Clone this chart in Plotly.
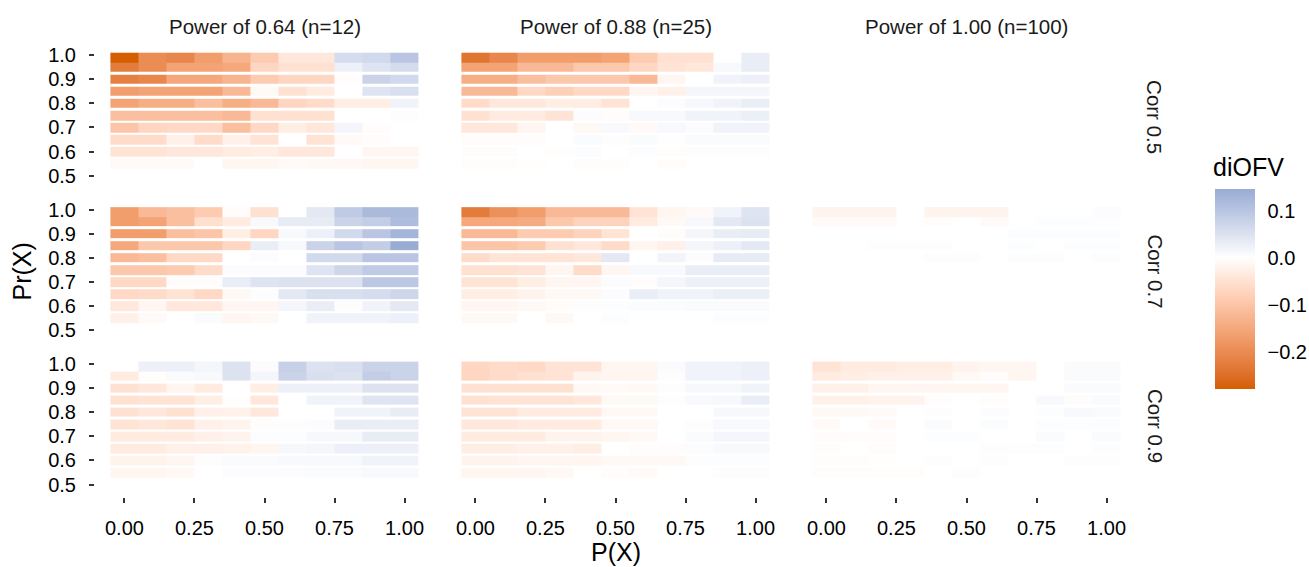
import numpy as np
import plotly.graph_objects as go

# ---------------- data ----------------
PX = [0.0, 0.1, 0.2, 0.3, 0.4, 0.5, 0.6, 0.7, 0.8, 0.9, 1.0]
PRX = [0.99, 0.95, 0.90, 0.85, 0.80, 0.75, 0.70, 0.65, 0.60, 0.55]  # rows, top to bottom

POWER_LABELS = ["Power of 0.64 (n=12)", "Power of 0.88 (n=25)", "Power of 1.00 (n=100)"]
CORR_LABELS = ["Corr 0.5", "Corr 0.7", "Corr 0.9"]

X_TICKS = [0.0, 0.25, 0.5, 0.75, 1.0]
X_TICKTEXT = ["0.00", "0.25", "0.50", "0.75", "1.00"]
Y_TICKS = [0.5, 0.6, 0.7, 0.8, 0.9, 1.0]
Y_TICKTEXT = ["0.5", "0.6", "0.7", "0.8", "0.9", "1.0"]
CB_TICKS = [-0.2, -0.1, 0.0, 0.1]
CB_TICKTEXT = ["\u22120.2", "\u22120.1", "0.0", "0.1"]
CB_LIMITS = [-0.28, 0.146]

C05_N12 = [
    [-0.28, -0.20, -0.21, -0.17, -0.13, -0.09, -0.04, -0.04, 0.06, 0.065, 0.10],
    [-0.23, -0.20, -0.16, -0.16, -0.15, -0.07, -0.05, -0.05, 0.025, 0.045, 0.06],
    [-0.22, -0.21, -0.15, -0.15, -0.13, -0.09, -0.07, -0.07, -0.005, 0.075, 0.065],
    [-0.17, -0.16, -0.16, -0.16, -0.12, -0.01, -0.05, -0.035, 0.0, 0.045, 0.055],
    [-0.16, -0.14, -0.14, -0.11, -0.14, -0.12, -0.07, -0.06, -0.03, -0.03, 0.02],
    [-0.11, -0.11, -0.11, -0.11, -0.12, -0.05, -0.05, -0.05, 0.0, 0.0, 0.003],
    [-0.10, -0.07, -0.065, -0.065, -0.11, -0.065, -0.03, -0.04, 0.015, -0.005, 0.0],
    [-0.06, -0.06, -0.025, -0.06, -0.025, -0.045, 0.0, -0.045, -0.008, -0.005, 0.0],
    [-0.045, -0.045, -0.04, -0.04, -0.035, -0.03, -0.04, -0.04, 0.0, -0.015, -0.015],
    [-0.008, -0.008, -0.008, 0.0, -0.015, -0.015, -0.008, -0.01, -0.012, -0.015, -0.015],
]
C05_N25 = [
    [-0.24, -0.21, -0.17, -0.17, -0.17, -0.16, -0.09, -0.05, -0.05, 0.0, 0.03],
    [-0.16, -0.16, -0.12, -0.12, -0.095, -0.095, -0.07, -0.045, -0.04, 0.01, 0.03],
    [-0.14, -0.14, -0.11, -0.095, -0.095, -0.095, -0.12, -0.015, 0.0, 0.02, 0.025],
    [-0.12, -0.12, -0.065, -0.08, -0.065, -0.065, -0.015, -0.025, 0.015, 0.015, 0.015],
    [-0.06, -0.04, -0.04, -0.03, -0.033, -0.045, 0.0, 0.005, 0.012, 0.02, 0.03],
    [-0.05, -0.035, -0.035, -0.045, 0.005, -0.005, 0.01, 0.01, 0.02, 0.02, 0.028],
    [-0.04, -0.04, -0.015, 0.0, -0.01, 0.01, -0.008, 0.01, 0.005, 0.02, 0.02],
    [-0.005, -0.005, -0.005, 0.0, 0.008, 0.003, 0.008, 0.002, 0.008, 0.008, 0.008],
    [-0.004, -0.004, 0.0, -0.004, 0.004, 0.0, 0.004, -0.004, 0.003, 0.003, 0.003],
    [-0.004, -0.004, -0.002, 0.0, -0.004, -0.004, 0.0, -0.006, 0.0, 0.0, 0.0],
]
C05_N100 = [
    [0.0] * 11, [0.0] * 11, [0.0] * 11, [0.0] * 11, [0.0] * 11,
    [0.0] * 11, [0.0] * 11, [0.0] * 11, [0.0] * 11, [0.0] * 11,
]
C07_N12 = [
    [-0.17, -0.12, -0.11, -0.09, -0.005, -0.05, 0.0, 0.04, 0.09, 0.12, 0.12],
    [-0.17, -0.16, -0.11, -0.055, -0.035, 0.01, 0.035, 0.035, 0.075, 0.085, 0.115],
    [-0.17, -0.17, -0.11, -0.10, -0.03, -0.07, 0.01, 0.025, 0.065, 0.10, 0.13],
    [-0.15, -0.095, -0.095, -0.095, -0.07, 0.03, 0.01, 0.075, 0.10, 0.085, 0.146],
    [-0.12, -0.11, -0.065, -0.065, 0.0, 0.005, 0.0, 0.065, 0.065, 0.10, 0.10],
    [-0.095, -0.095, -0.09, -0.06, 0.005, 0.005, 0.005, 0.045, 0.07, 0.09, 0.09],
    [-0.065, -0.065, -0.004, -0.004, 0.03, 0.045, 0.05, 0.05, 0.05, 0.095, 0.095],
    [-0.065, -0.06, -0.045, -0.065, -0.01, 0.003, 0.04, 0.055, 0.055, 0.06, 0.07],
    [-0.04, -0.015, -0.04, -0.04, -0.015, -0.015, 0.015, 0.03, 0.003, 0.02, 0.04],
    [-0.025, -0.008, 0.0, 0.008, -0.015, -0.01, 0.0, 0.02, 0.02, 0.02, 0.025],
]
C07_N25 = [
    [-0.23, -0.19, -0.17, -0.12, -0.12, -0.12, -0.045, -0.015, -0.008, 0.02, 0.045],
    [-0.15, -0.15, -0.145, -0.095, -0.075, -0.075, -0.035, -0.01, 0.012, 0.04, 0.05],
    [-0.12, -0.12, -0.09, -0.09, -0.075, -0.045, 0.0, -0.003, 0.015, 0.03, 0.035],
    [-0.10, -0.10, -0.09, -0.05, -0.04, -0.06, -0.015, -0.025, 0.015, 0.025, 0.04],
    [-0.06, -0.045, -0.045, -0.045, -0.04, 0.04, 0.0, 0.018, 0.005, 0.035, 0.035],
    [-0.05, -0.05, -0.045, -0.015, -0.06, -0.015, 0.01, 0.01, 0.03, 0.03, 0.03],
    [-0.045, -0.045, -0.03, -0.015, -0.015, 0.005, -0.005, 0.015, 0.025, 0.025, 0.025],
    [-0.03, -0.03, -0.02, -0.01, -0.01, 0.005, 0.03, 0.02, 0.02, 0.028, 0.028],
    [-0.015, -0.015, -0.01, -0.006, 0.003, 0.004, 0.006, 0.006, 0.008, 0.008, 0.008],
    [-0.01, -0.01, 0.0, -0.01, 0.0, 0.003, 0.0, 0.0, 0.0, 0.004, 0.004],
]
C07_N100 = [
    [-0.02, -0.02, -0.02, 0.0, -0.02, -0.02, -0.02, 0.0, 0.0, 0.0, 0.005],
    [-0.008, -0.008, -0.008, 0.0, -0.005, 0.0, -0.008, 0.0, 0.004, 0.004, 0.004],
    [0.0, 0.0, 0.0, 0.0, 0.0, 0.0, 0.0, 0.004, 0.004, 0.004, 0.004],
    [0.0, 0.0, 0.003, 0.003, 0.003, 0.0, 0.0, 0.004, 0.0, 0.004, 0.004],
    [0.0, 0.0, 0.0, 0.0, 0.003, 0.003, 0.0, 0.003, 0.003, 0.0, 0.004],
    [0.0] * 11, [0.0] * 11, [0.0] * 11, [0.0] * 11, [0.0] * 11,
]
C09_N12 = [
    [0.0, 0.025, 0.025, 0.015, 0.05, 0.005, 0.08, 0.05, 0.055, 0.075, 0.075],
    [-0.035, -0.002, 0.008, 0.01, 0.05, 0.015, 0.075, 0.055, 0.05, 0.085, 0.075],
    [-0.05, -0.04, -0.015, -0.035, 0.0, -0.03, 0.025, 0.025, 0.025, 0.05, 0.05],
    [-0.05, -0.045, -0.045, -0.03, -0.002, -0.04, 0.0, 0.02, 0.02, 0.045, 0.045],
    [-0.05, -0.04, -0.05, -0.025, -0.022, -0.04, 0.0, 0.0, 0.02, 0.02, 0.032],
    [-0.045, -0.04, -0.045, -0.025, -0.02, 0.003, 0.003, 0.005, 0.03, 0.03, 0.03],
    [-0.035, -0.035, -0.035, -0.025, -0.02, 0.004, 0.004, 0.012, 0.012, 0.032, 0.032],
    [-0.035, -0.035, -0.025, -0.025, -0.022, -0.015, 0.012, 0.015, 0.025, 0.025, 0.025],
    [-0.02, -0.02, -0.015, 0.003, 0.008, 0.008, 0.01, 0.01, 0.01, 0.02, 0.02],
    [-0.015, -0.015, -0.012, 0.0, 0.005, 0.005, 0.005, 0.008, 0.008, 0.01, 0.01],
]
C09_N25 = [
    [-0.07, -0.06, -0.065, -0.045, -0.045, -0.015, -0.015, 0.008, 0.02, 0.02, 0.025],
    [-0.07, -0.06, -0.05, -0.045, -0.02, -0.015, -0.015, 0.003, 0.02, 0.02, 0.025],
    [-0.05, -0.05, -0.05, -0.05, -0.01, -0.008, -0.012, 0.003, 0.012, 0.012, 0.02],
    [-0.05, -0.045, -0.045, -0.045, -0.04, -0.01, -0.01, 0.004, 0.01, 0.012, 0.03],
    [-0.045, -0.045, -0.035, -0.035, -0.035, -0.012, -0.012, 0.0, 0.0, 0.012, 0.012],
    [-0.04, -0.04, -0.035, -0.035, -0.035, -0.012, -0.012, 0.0, 0.003, 0.01, 0.01],
    [-0.035, -0.035, -0.035, -0.02, -0.02, -0.015, -0.01, 0.0, 0.008, 0.015, 0.015],
    [-0.03, -0.03, -0.025, -0.025, -0.03, 0.0, -0.005, -0.005, 0.006, 0.01, 0.01],
    [-0.02, -0.02, -0.015, -0.015, -0.015, -0.01, -0.01, -0.01, 0.003, 0.004, 0.004],
    [-0.015, -0.015, -0.015, -0.012, 0.0, -0.005, -0.008, 0.0, 0.0, 0.003, 0.003],
]
C09_N100 = [
    [-0.045, -0.035, -0.035, -0.03, -0.03, -0.02, -0.015, -0.015, 0.0, 0.008, 0.008],
    [-0.035, -0.03, -0.025, -0.025, -0.025, -0.01, -0.005, -0.015, 0.0, 0.008, 0.008],
    [-0.025, -0.025, -0.015, -0.015, -0.015, -0.015, -0.015, 0.0, 0.0, 0.008, 0.008],
    [-0.025, -0.025, -0.02, -0.02, -0.005, 0.0, -0.005, 0.0, 0.01, -0.003, 0.008],
    [-0.01, -0.01, -0.008, 0.0, 0.003, 0.0, 0.005, 0.0, 0.004, 0.01, 0.008],
    [-0.008, 0.0, -0.008, 0.0, 0.008, 0.0, 0.006, 0.0, 0.004, 0.004, 0.004],
    [-0.005, -0.005, -0.005, 0.0, 0.004, 0.004, 0.0, 0.0, 0.008, 0.0, 0.008],
    [-0.004, 0.0, -0.005, 0.0, 0.0, 0.0, 0.004, 0.004, 0.004, 0.0, 0.004],
    [-0.004, -0.004, -0.002, 0.0, 0.003, 0.0, 0.003, 0.0, 0.0, 0.003, 0.003],
    [-0.003, -0.003, -0.003, -0.003, 0.0, 0.003, 0.0, 0.0, 0.0, 0.0, 0.0],
]

PANELS = [
    [C05_N12, C05_N25, C05_N100],
    [C07_N12, C07_N25, C07_N100],
    [C09_N12, C09_N25, C09_N100],
]

# ---------------- colour scale (ggplot scale_fill_gradient2, Lab interpolation) ----------------
LOW, MID, HIGH = "#D55E00", "#FFFFFF", "#2166AC"


def hex2rgb(h):
    h = h.lstrip("#")
    return [int(h[i:i + 2], 16) for i in (0, 2, 4)]


def rgb2lab(rgb):
    c = [v / 255 for v in rgb]
    c = [v / 12.92 if v <= 0.04045 else ((v + 0.055) / 1.055) ** 2.4 for v in c]
    X = (0.4124 * c[0] + 0.3576 * c[1] + 0.1805 * c[2]) / 0.95047
    Y = (0.2126 * c[0] + 0.7152 * c[1] + 0.0722 * c[2]) / 1.0
    Z = (0.0193 * c[0] + 0.1192 * c[1] + 0.9505 * c[2]) / 1.08883
    f = lambda t: t ** (1 / 3) if t > 0.008856 else 7.787 * t + 16 / 116
    fx, fy, fz = f(X), f(Y), f(Z)
    return [116 * fy - 16, 500 * (fx - fy), 200 * (fy - fz)]


def lab2rgb(lab):
    L, a, b = lab
    fy = (L + 16) / 116
    fx = fy + a / 500
    fz = fy - b / 200
    finv = lambda t: t ** 3 if t ** 3 > 0.008856 else (t - 16 / 116) / 7.787
    X, Y, Z = finv(fx) * 0.95047, finv(fy), finv(fz) * 1.08883
    r = 3.2406 * X - 1.5372 * Y - 0.4986 * Z
    g = -0.9689 * X + 1.8758 * Y + 0.0415 * Z
    bb = 0.0557 * X - 0.2040 * Y + 1.0570 * Z
    out = []
    for v in (r, g, bb):
        v = 12.92 * v if v <= 0.0031308 else 1.055 * v ** (1 / 2.4) - 0.055
        out.append(int(round(min(max(v, 0), 1) * 255)))
    return out


LAB_LOW, LAB_MID, LAB_HIGH = rgb2lab(hex2rgb(LOW)), rgb2lab(hex2rgb(MID)), rgb2lab(hex2rgb(HIGH))
span = max(abs(CB_LIMITS[0]), abs(CB_LIMITS[1]))


def fill_colour(v):
    if abs(v) < 1e-12:
        return "rgb(255,255,255)"
    t = v / span
    end = LAB_LOW if t < 0 else LAB_HIGH
    t = abs(t)
    lab = [m + (e - m) * t for m, e in zip(LAB_MID, end)]
    r, g, b = lab2rgb(lab)
    return f"rgb({r},{g},{b})"


stop_vals = sorted(set(np.round(np.concatenate([
    np.linspace(CB_LIMITS[0], 0.0, 41),
    np.linspace(0.0, CB_LIMITS[1], 21)]), 10)))
colorscale = []
for v in stop_vals:
    f = (v - CB_LIMITS[0]) / (CB_LIMITS[1] - CB_LIMITS[0])
    colorscale.append([min(max(f, 0.0), 1.0), fill_colour(v)])
colorscale[0][0] = 0.0
colorscale[-1][0] = 1.0

# ---------------- tile geometry (geom_tile: height = resolution of y) ----------------
order = np.argsort(PRX)
prx_asc = [PRX[i] for i in order]
h = float(np.min(np.diff(prx_asc)))
edges = []
row_src = []
for i, yv in zip(order, prx_asc):
    lo, hi = yv - h / 2, yv + h / 2
    if not edges:
        edges.append(lo)
    elif lo > edges[-1] + 1e-9:
        row_src.append(None)  # visible gap between tiles
        edges.append(lo)
    row_src.append(i)
    edges.append(hi)

W, H = 1309, 567
COL_LEFT, COL_PITCH, PANEL_W = 95.0, 351.0, 339.0
ROW_TOP, ROW_PITCH, PANEL_H = 44.6, 155.0, 141.8
X_RANGE = [-0.105, 1.105]
Y_RANGE = [0.45, 1.036]
FONT = "Liberation Sans, Arial, Helvetica, sans-serif"
TICK_SIZE, STRIP_SIZE, TITLE_SIZE = 20, 20.5, 25

fig = go.Figure()
layout = {}
for r in range(3):
    for c in range(3):
        idx = r * 3 + c + 1
        mat = PANELS[r][c]
        z = [[None] * len(PX) if s is None else mat[s] for s in row_src]
        fig.add_trace(go.Heatmap(
            x=PX, y=edges, z=z, coloraxis="coloraxis",
            xaxis=f"x{idx}", yaxis=f"y{idx}",
            hoverongaps=False,
        ))
        x0 = (COL_LEFT + c * COL_PITCH) / W
        x1 = (COL_LEFT + c * COL_PITCH + PANEL_W) / W
        top = ROW_TOP + r * ROW_PITCH
        y1 = 1 - top / H
        y0 = 1 - (top + PANEL_H) / H
        xa = dict(domain=[x0, x1], range=X_RANGE, anchor=f"y{idx}",
                  showgrid=False, zeroline=False, showline=False,
                  tickvals=X_TICKS, ticktext=X_TICKTEXT,
                  tickfont=dict(family=FONT, size=TICK_SIZE, color="black"))
        ya = dict(domain=[y0, y1], range=Y_RANGE, anchor=f"x{idx}",
                  showgrid=False, zeroline=False, showline=False,
                  tickvals=Y_TICKS, ticktext=Y_TICKTEXT,
                  tickfont=dict(family=FONT, size=TICK_SIZE, color="black"))
        if r == 2:
            xa.update(ticks="outside", ticklen=5, tickwidth=2, tickcolor="#333333",
                      showticklabels=True, ticklabelstandoff=8)
        else:
            xa.update(ticks="", showticklabels=False)
        if c == 0:
            ya.update(ticks="outside", ticklen=5, tickwidth=2, tickcolor="#333333",
                      showticklabels=True, ticklabelstandoff=9)
        else:
            ya.update(ticks="", showticklabels=False)
        layout["xaxis" if idx == 1 else f"xaxis{idx}"] = xa
        layout["yaxis" if idx == 1 else f"yaxis{idx}"] = ya

annotations = []
for c, lab in enumerate(POWER_LABELS):
    annotations.append(dict(
        text=lab, xref="paper", yref="paper",
        x=(COL_LEFT + c * COL_PITCH + PANEL_W / 2) / W, y=1 - 25 / H,
        showarrow=False, font=dict(family=FONT, size=STRIP_SIZE, color="#1a1a1a"),
        xanchor="center", yanchor="middle"))
for r, lab in enumerate(CORR_LABELS):
    annotations.append(dict(
        text=lab, xref="paper", yref="paper",
        x=1155 / W, y=1 - (ROW_TOP + r * ROW_PITCH + PANEL_H / 2) / H,
        showarrow=False, textangle=90, font=dict(family=FONT, size=STRIP_SIZE, color="#1a1a1a"),
        xanchor="center", yanchor="middle"))
annotations.append(dict(text="Pr(X)", xref="paper", yref="paper", x=22 / W,
                        y=1 - (ROW_TOP + (2 * ROW_PITCH + PANEL_H) / 2) / H,
                        showarrow=False, textangle=-90,
                        font=dict(family=FONT, size=TITLE_SIZE, color="black"),
                        xanchor="center", yanchor="middle"))
annotations.append(dict(text="P(X)", xref="paper", yref="paper",
                        x=(COL_LEFT + (2 * COL_PITCH + PANEL_W) / 2) / W, y=1 - 552 / H,
                        showarrow=False, font=dict(family=FONT, size=TITLE_SIZE, color="black"),
                        xanchor="center", yanchor="middle"))
annotations.append(dict(text="diOFV", xref="paper", yref="paper", x=1211 / W, y=1 - 166 / H,
                        showarrow=False, font=dict(family=FONT, size=TITLE_SIZE, color="black"),
                        xanchor="left", yanchor="middle"))

fig.update_layout(
    width=W, height=H,
    margin=dict(l=0, r=0, t=0, b=0),
    paper_bgcolor="white", plot_bgcolor="white",
    showlegend=False,
    annotations=annotations,
    coloraxis=dict(
        colorscale=colorscale, cmin=CB_LIMITS[0], cmax=CB_LIMITS[1],
        colorbar=dict(
            x=1215 / W, xanchor="left", xref="paper",
            y=1 - 288.3 / H, yanchor="middle", yref="paper",
            len=200, lenmode="pixels", thickness=40, thicknessmode="pixels",
            xpad=0, ypad=0, outlinewidth=0,
            tickvals=CB_TICKS, ticktext=CB_TICKTEXT,
            ticks="outside", ticklen=9, tickcolor="rgba(255,255,255,0)",
            tickfont=dict(family=FONT, size=TICK_SIZE, color="black"),
        ),
    ),
    **layout,
)

fig.write_html("out.html")
